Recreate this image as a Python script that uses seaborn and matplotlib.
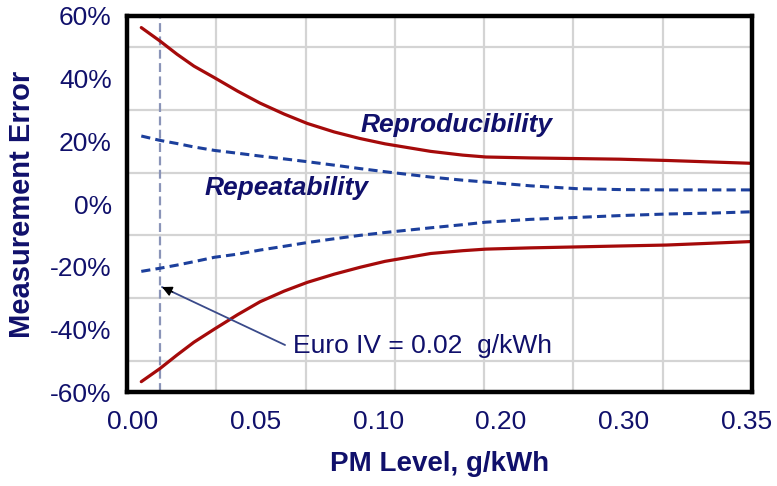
import numpy as np
import pandas as pd
import matplotlib
matplotlib.use("Agg")
import matplotlib.pyplot as plt
import seaborn as sns

# ---- data ----
x_pm = [0.008, 0.0185, 0.028, 0.0375, 0.049, 0.062, 0.0745, 0.088, 0.101, 0.116, 0.1305,
        0.1445, 0.17, 0.188, 0.201, 0.226, 0.2515, 0.276, 0.302, 0.328, 0.349]
reprod_upper = [56.3, 52.0, 47.8, 44.0, 40.3, 36.0, 32.2, 28.7, 25.7, 23.0, 20.9,
                19.2, 16.8, 15.6, 15.0, 14.7, 14.5, 14.3, 13.9, 13.4, 13.0]
reprod_lower = [-56.7, -52.5, -48.2, -44.1, -39.9, -35.3, -31.2, -27.8, -25.0, -22.4, -20.2,
                -18.3, -15.8, -14.9, -14.4, -14.0, -13.7, -13.4, -13.1, -12.5, -12.0]
repeat_upper = [21.7, 20.3, 19.3, 18.2, 17.1, 16.2, 15.3, 14.4, 13.5, 12.4, 11.3,
                10.3, 8.6, 7.6, 7.0, 5.8, 4.9, 4.6, 4.5, 4.5, 4.5]
repeat_lower = [-21.5, -20.5, -19.5, -18.4, -17.0, -16.0, -14.7, -13.5, -12.3, -11.1, -10.0,
                -9.1, -7.6, -6.6, -5.8, -4.9, -4.3, -3.7, -3.2, -2.9, -2.5]

x_tick_labels = ["0.00", "0.05", "0.10", "0.20", "0.30", "0.35"]
y_tick_values = [-60, -40, -20, 0, 20, 40, 60]
euro_iv_limit = 0.02

navy = "#10106b"
red = "#a50a0a"
blue = "#1c3f9c"

sns.set_theme(style="white")
plt.rcParams["font.family"] = ["Liberation Sans", "DejaVu Sans"]

fig = plt.figure(figsize=(7.77, 4.86), dpi=100)
ax = fig.add_axes([127 / 777, 1 - 392 / 486, 625 / 777, 376 / 486])

sns.lineplot(x=x_pm, y=reprod_upper, ax=ax, color=red, lw=2.3, errorbar=None, zorder=4)
sns.lineplot(x=x_pm, y=reprod_lower, ax=ax, color=red, lw=2.3, errorbar=None, zorder=4)
sns.lineplot(x=x_pm, y=repeat_upper, ax=ax, color=blue, lw=2.2, errorbar=None,
             linestyle=(0, (3.0, 1.7)), zorder=4)
sns.lineplot(x=x_pm, y=repeat_lower, ax=ax, color=blue, lw=2.2, errorbar=None,
             linestyle=(0, (3.0, 1.7)), zorder=4)

ax.set_xlim(0, 0.35)
ax.set_ylim(-60, 60)

# grid: vertical every 0.05, horizontal every 10%
ax.set_xticks(np.arange(0, 0.3501, 0.05), minor=True)
ax.set_yticks(np.arange(-60, 61, 10), minor=True)
ax.grid(which="minor", color="#d4d4d4", lw=1.6, zorder=0)
ax.grid(which="major", visible=False)
ax.set_axisbelow(True)

# tick labels
ax.set_xticks(np.linspace(0.003, 0.347, len(x_tick_labels)))
ax.set_xticklabels(x_tick_labels)
ax.set_yticks(y_tick_values)
ax.set_yticklabels([f"{v}%" for v in y_tick_values])
ax.tick_params(axis="both", which="both", length=0, labelsize=19, labelcolor=navy)
ax.tick_params(axis="x", pad=13)
ax.tick_params(axis="y", pad=11)

# Euro IV reference line
ax.axvline(euro_iv_limit - 0.0015, color="#8a94b8", lw=1.6, ls=(0, (4, 2)), zorder=3)

# frame
for s in ax.spines.values():
    s.set_visible(True)
    s.set_color("black")
    s.set_linewidth(3.2)
    s.set_zorder(6)

# labels
ax.set_xlabel("PM Level, g/kWh", fontsize=20, fontweight="bold", color=navy, labelpad=12)
ax.set_ylabel("Measurement Error", fontsize=21, fontweight="bold", color=navy, labelpad=10)

ax.text(0.1848, 25.2, "Reproducibility", fontsize=19, fontweight="bold", fontstyle="italic",
        color=navy, ha="center", va="center", zorder=5)
ax.text(0.0896, 5.1, "Repeatability", fontsize=19, fontweight="bold", fontstyle="italic",
        color=navy, ha="center", va="center", zorder=5)
ax.text(0.093, -45.3, "Euro IV = 0.02  g/kWh", fontsize=19, color=navy,
        ha="left", va="center", zorder=5)

# arrow: thin navy shaft plus small black head
head = (0.0196, -26.5)
tail = (0.0885, -45.0)
ax.annotate("", xy=head, xytext=tail, zorder=5,
            arrowprops=dict(arrowstyle="-", color="#3a4a8a", lw=1.3,
                            shrinkA=0, shrinkB=0))
ax.annotate("", xy=head, xytext=(head[0] + 0.006, head[1] - 1.6), zorder=6,
            arrowprops=dict(arrowstyle="-|>", color="black", lw=1.0,
                            mutation_scale=15, shrinkA=0, shrinkB=0))

fig.savefig("out.png", dpi=100)
